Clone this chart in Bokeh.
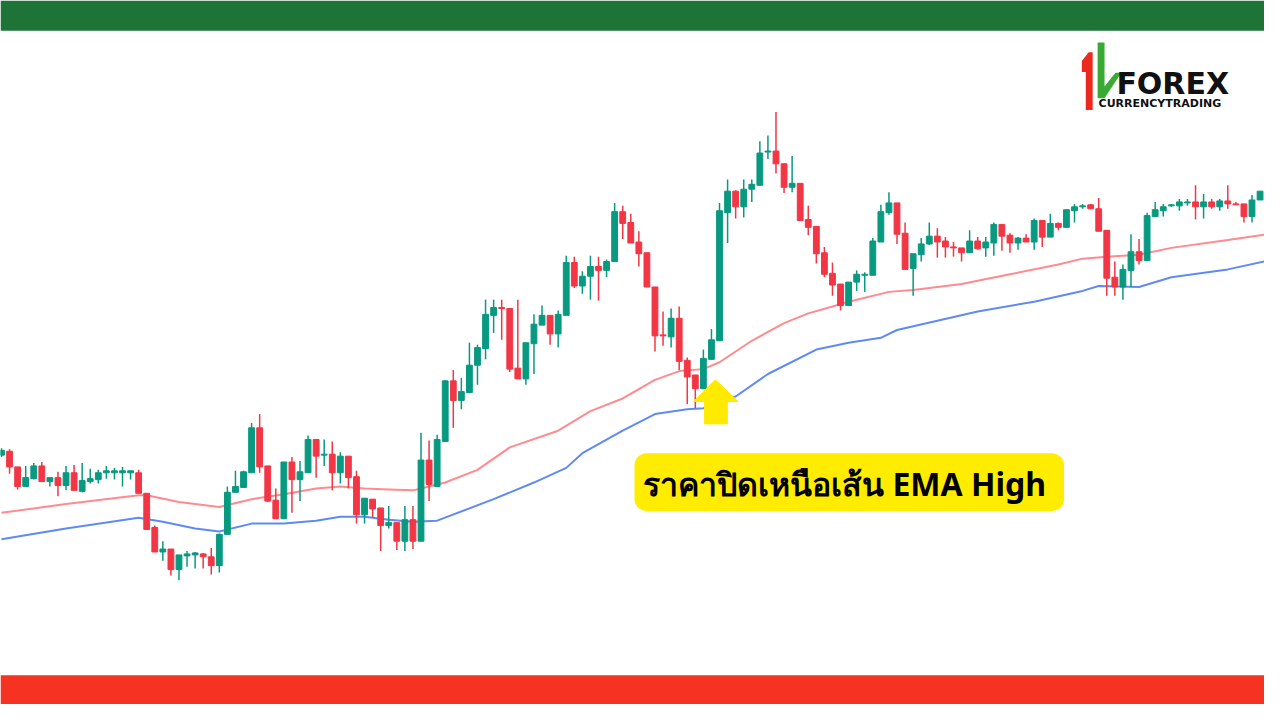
from bokeh.plotting import figure
from bokeh.models import Range1d, ColumnDataSource
from bokeh.embed import file_html
from bokeh.resources import INLINE
from bokeh.core.properties import value

# ---------------- data (price units) ----------------
opens = [255, 259, 243, 223, 231, 244, 228, 232, 224, 237, 218, 228, 230, 237, 237, 237, 237, 237, 216, 181,
         156, 159, 138, 152, 153, 154, 151, 142, 174, 217, 222, 237, 283, 244, 209, 190, 248, 230, 237, 271,
         255, 256, 237, 254, 233, 194, 210, 201, 183, 186, 167, 189, 167, 250, 223, 269, 331, 311, 319, 347,
         364, 398, 406, 405, 344, 333, 369, 388, 398, 379, 398, 452, 428, 438, 448, 444, 453, 504, 493, 473,
         462, 427, 378, 376, 395, 352, 337, 323, 353, 372, 503, 525, 509, 527, 531, 565, 566, 553, 529, 533,
         496, 489, 462, 441, 430, 408, 432, 439, 439, 473, 503, 513, 482, 446, 460, 471, 479, 474, 468, 467,
         462, 474, 467, 472, 491, 480, 472, 477, 473, 495, 478, 492, 488, 505, 509, 511, 507, 485, 437, 427,
         444, 463, 454, 499, 505, 510, 510, 513, 514, 509, 514, 509, 515, 512, 512, 499, 516]
highs = [262, 261, 243, 244, 247, 248, 232, 238, 244, 245, 247, 241, 240, 244, 242, 243, 239, 240, 216, 183,
         167, 159, 153, 157, 156, 155, 160, 175, 223, 239, 239, 288, 297, 244, 221, 248, 253, 249, 275, 271,
         271, 269, 258, 254, 239, 211, 210, 201, 203, 186, 203, 203, 278, 270, 276, 332, 342, 334, 370, 368,
         414, 414, 414, 405, 414, 370, 399, 408, 398, 403, 459, 458, 443, 459, 458, 455, 513, 510, 502, 484,
         462, 427, 402, 405, 407, 355, 337, 363, 384, 513, 537, 526, 537, 537, 576, 582, 606, 553, 561, 533,
         510, 489, 468, 452, 430, 432, 444, 442, 477, 511, 524, 513, 493, 461, 477, 493, 487, 478, 473, 467,
         485, 478, 478, 493, 491, 482, 478, 481, 497, 495, 502, 493, 506, 512, 512, 512, 518, 485, 453, 450,
         481, 476, 503, 514, 512, 512, 517, 517, 531, 522, 517, 517, 531, 514, 512, 521, 525]
lows = [253, 236, 220, 223, 230, 228, 223, 213, 219, 219, 217, 226, 226, 231, 230, 223, 230, 216, 179, 156,
        147, 132, 127, 141, 139, 139, 133, 135, 174, 217, 222, 237, 237, 207, 190, 190, 196, 208, 237, 232,
        244, 219, 226, 221, 185, 185, 191, 157, 180, 158, 157, 159, 167, 208, 223, 269, 283, 302, 319, 327,
        353, 380, 373, 340, 333, 327, 338, 388, 368, 365, 398, 426, 420, 414, 413, 437, 453, 476, 472, 448,
        427, 361, 367, 365, 342, 307, 303, 323, 353, 372, 472, 497, 498, 514, 531, 558, 543, 523, 524, 495,
        480, 451, 437, 418, 403, 408, 423, 422, 439, 473, 501, 471, 445, 418, 453, 470, 457, 457, 458, 453,
        462, 465, 458, 459, 464, 462, 465, 473, 465, 468, 478, 485, 488, 493, 507, 507, 484, 418, 418, 414,
        427, 450, 454, 499, 499, 509, 505, 510, 496, 497, 507, 505, 507, 511, 493, 493, 516]
closes = [260, 243, 223, 232, 244, 228, 232, 224, 237, 219, 229, 231, 237, 239, 239, 239, 239, 216, 179, 156,
          159, 138, 153, 154, 155, 151, 142, 174, 217, 223, 238, 283, 243, 208, 190, 248, 230, 238, 271, 254,
          256, 237, 254, 232, 194, 211, 200, 183, 186, 167, 189, 167, 250, 225, 271, 331, 311, 320, 347, 365,
          399, 406, 405, 343, 333, 370, 389, 398, 379, 399, 452, 428, 438, 448, 444, 453, 504, 492, 472, 461,
          427, 377, 377, 395, 351, 335, 323, 354, 373, 505, 525, 509, 527, 532, 564, 566, 553, 529, 533, 495,
          488, 461, 440, 429, 408, 432, 440, 440, 474, 504, 513, 481, 445, 461, 471, 479, 473, 468, 467, 462,
          474, 466, 473, 491, 479, 472, 477, 473, 495, 478, 492, 488, 506, 509, 510, 507, 484, 436, 427, 445,
          463, 454, 500, 506, 509, 511, 514, 514, 509, 514, 509, 515, 512, 511, 499, 516, 525]

# EMA of highs (upper, pink) and EMA of lows (lower, blue), read at candle indices
ema_high_idx = [0, 8, 17, 18, 22, 27, 31, 35, 39, 42, 45, 48, 51, 53, 55, 59, 63, 69, 73, 77, 81, 84, 87, 89,
                93, 97, 100, 103, 105, 110, 113, 119, 125, 131, 134, 137, 141, 145, 152, 157]
ema_high = [196, 205, 214, 214, 207, 202, 210, 215, 221, 223, 221, 220, 219, 223, 227, 240, 263, 280, 300, 313,
            332, 341, 343, 350, 372, 390, 400, 407, 412, 422, 424, 430, 440, 450, 456, 458, 460, 467, 475, 481]
ema_low_idx = [0, 8, 17, 20, 24, 27, 31, 35, 39, 42, 45, 48, 51, 54, 61, 66, 70, 72, 77, 81, 85, 87, 91, 95,
               101, 105, 109, 111, 121, 128, 134, 136, 141, 145, 152, 157]
ema_low = [169, 180, 191, 187, 180, 177, 185, 185, 188, 192, 192, 189, 187, 188, 210, 227, 242, 257, 280, 297,
           302, 303, 315, 338, 363, 370, 375, 383, 402, 412, 423, 428, 427, 437, 445, 454]

label_text = "ราคาปิดเหนือเส้น EMA  High"
logo_main = "FOREX"
logo_sub = "CURRENCYTRADING"

# ---------------- figure ----------------
UP, DOWN = "#089981", "#f23645"
n = len(opens)
idx = list(range(n))
colors = [UP if closes[i] >= opens[i] else DOWN for i in idx]
src = ColumnDataSource(dict(
    x=idx, o=opens, h=highs, l=lows, c=closes,
    top=[max(opens[i], closes[i]) for i in idx],
    bot=[min(opens[i], closes[i]) for i in idx],
    color=colors))

p = figure(width=1264, height=704, output_backend="svg", toolbar_location=None,
           x_range=Range1d(-0.1224, 156.55), y_range=Range1d(0, 720),
           x_axis_type=None, y_axis_type=None, min_border=0)
p.grid.visible = False
p.outline_line_color = None
p.background_fill_color = "white"
p.border_fill_color = "white"
p.extra_x_ranges = {"px": Range1d(0, 1280)}
p.extra_y_ranges = {"px": Range1d(720, 0)}

# EMA lines
p.line(ema_high_idx, ema_high, line_color="#ff8a8f", line_width=2)
p.line(ema_low_idx, ema_low, line_color="#5f8af5", line_width=2)

# candles
p.segment(x0="x", y0="l", x1="x", y1="h", source=src, line_color="color", line_width=1.5)
p.vbar(x="x", width=0.72, top="top", bottom="bot", source=src,
       fill_color="color", line_color="color", line_width=1)

R = dict(x_range_name="px", y_range_name="px")

# header / footer bars
p.quad(left=0, right=1280, top=0, bottom=31, fill_color="#1e7336", line_color=None, **R)
p.quad(left=0, right=1280, top=690, bottom=720, fill_color="#f63323", line_color=None, **R)

# yellow arrow
p.patch([702, 724, 747, 736, 736, 713, 713], [410, 388, 410, 410, 433, 433, 410],
        fill_color="#ffea00", line_color="#ffea00", line_width=1, **R)

# label box
p.quad(left=642, right=1077, top=463, bottom=522, fill_color="#ffec00", line_color=None,
       border_radius=12, **R)
p.text(x=[859], y=[494], text=[label_text], text_align="center", text_baseline="middle",
       text_font=value("Noto Sans"), text_font_size="32px", text_font_style="bold",
       text_color="#000000", **R)

# logo
p.patch([1095, 1102, 1106, 1106, 1099, 1099, 1095], [62, 53, 53, 112, 112, 73, 73],
        fill_color="#ea2a1f", line_color=None, **R)
p.patch([1111, 1118, 1118, 1129, 1135, 1118, 1111], [43, 43, 88, 74, 74, 100, 100],
        fill_color="#3aaa35", line_color=None, **R)
p.text(x=[1130], y=[85], text=[logo_main], text_align="left", text_baseline="middle",
       text_font=value("DejaVu Sans"), text_font_size="30px", text_font_style="bold",
       text_color="#111111", **R)
p.text(x=[1112], y=[105], text=[logo_sub], text_align="left", text_baseline="middle",
       text_font=value("DejaVu Sans"), text_font_size="11px", text_font_style="bold",
       text_color="#111111", **R)

open("out.html", "w").write(file_html(p, INLINE))
